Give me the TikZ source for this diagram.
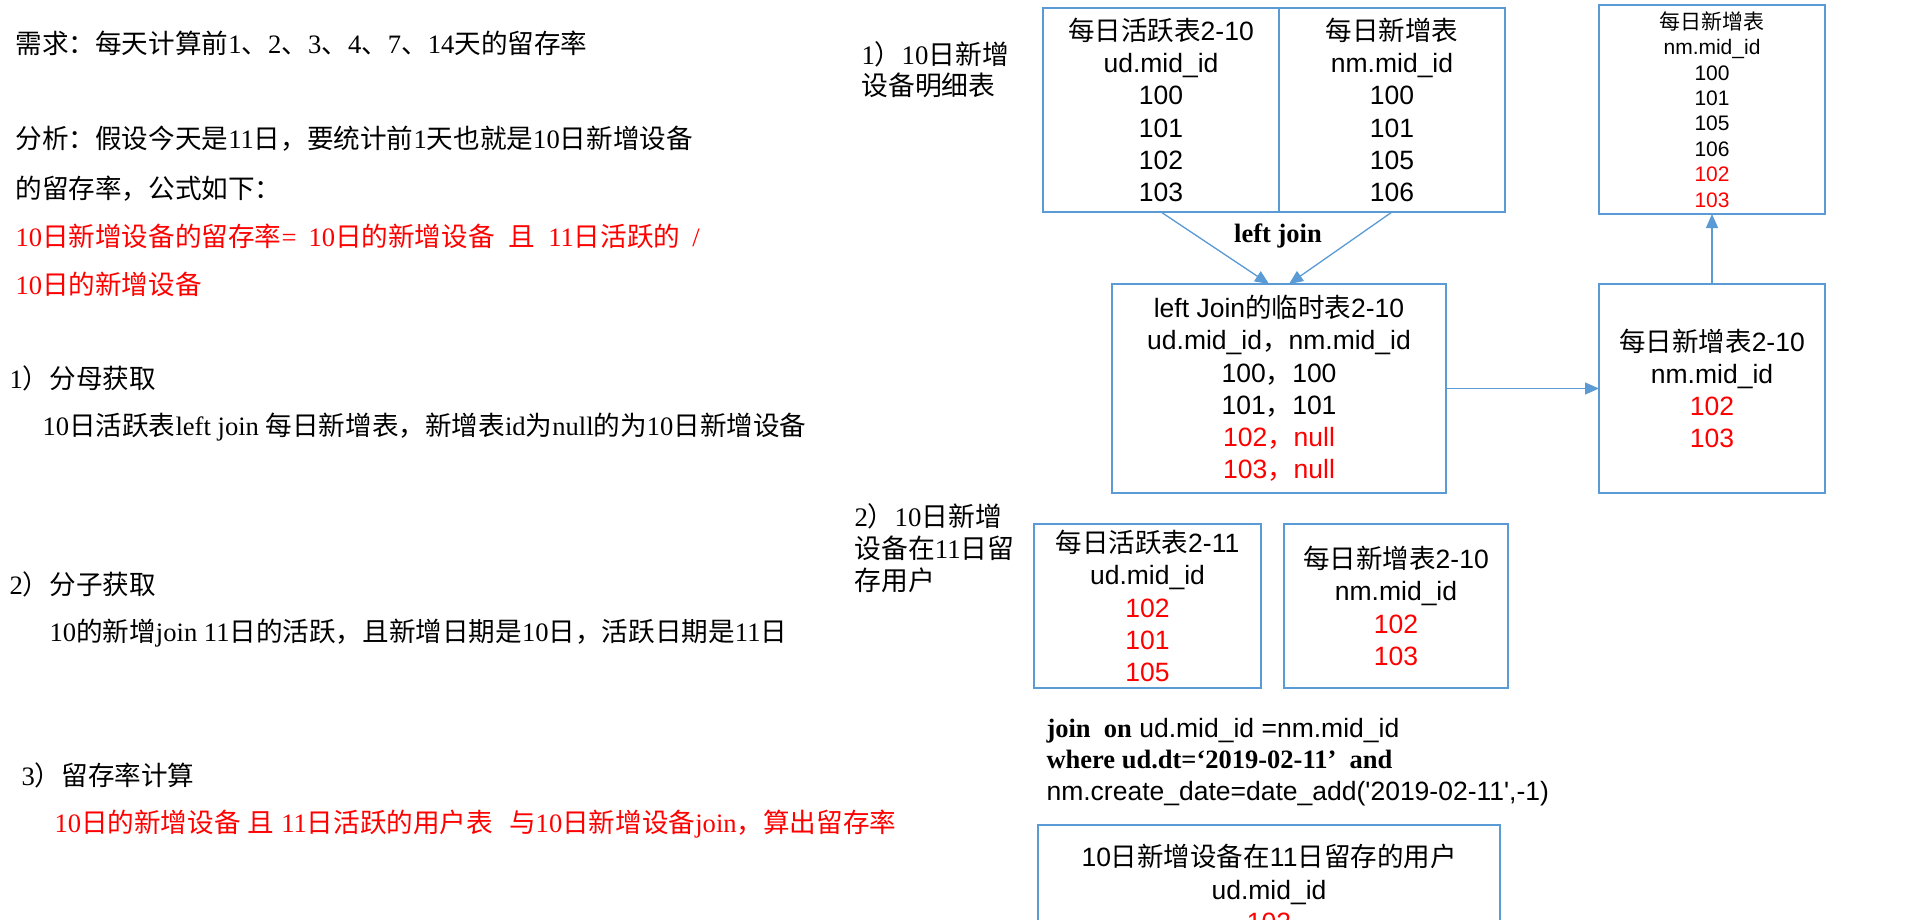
\documentclass[tikz,border=0pt]{standalone}
\usepackage{fontspec}
\setmainfont{Liberation Serif}
\setsansfont{Liberation Sans}
\newfontfamily\zhfont{Noto Sans CJK SC}
\usetikzlibrary{arrows.meta,positioning}

\definecolor{boxblue}{HTML}{5B9BD5}
\definecolor{hired}{HTML}{FF0000}

% Chinese runs switch to the CJK font by themselves
\XeTeXinterchartokenstate=1
\newcount\zhcode
\zhcode="3000
\loop\ifnum\zhcode<"A000
  \XeTeXcharclass\zhcode=1
  \advance\zhcode by 1
\repeat
\zhcode="FF00
\loop\ifnum\zhcode<"FF61
  \XeTeXcharclass\zhcode=1
  \advance\zhcode by 1
\repeat
\XeTeXinterchartoks 0 1 = {\begingroup\zhfont}
\XeTeXinterchartoks 4095 1 = {\begingroup\zhfont}
\XeTeXinterchartoks 1 0 = {\endgroup}
\XeTeXinterchartoks 1 4095 = {\endgroup}

\begin{document}
\begin{tikzpicture}[x=1pt, y=-1pt,
    tbl/.style={draw=boxblue, line width=2.8pt, outer sep=0pt, inner sep=0pt, align=center,
      font=\fontsize{26.5}{32.2}\selectfont\sffamily},
    note/.style={anchor=west, align=left, font=\fontsize{26.6}{50}\selectfont\rmfamily},
    link/.style={draw=boxblue, line width=1.3pt, -{Triangle[length=14pt,width=12pt]}}]
    \useasboundingbox (0,0) rectangle (1908,920);
    \clip (0,0) rectangle (1908,920);
    \fill[white] (0,0) rectangle (1908,920);

    % left column: the task and the three steps
    \node[note] (need) at (12,43) {需求：每天计算前1、2、3、4、7、14天的留存率};
    \node[note] (ana) at (12,164) {分析：假设今天是11日，要统计前1天也就是10日新增设备\\的留存率，公式如下：};
    \node[note, text=hired, font=\fontsize{26.6}{48}\selectfont\rmfamily] (rate) at (12,260)
        {10日新增设备的留存率=\hspace{12pt}10日的新增设备\hspace{14pt}且\hspace{13pt}11日活跃的\hspace{12pt}/\\10日的新增设备};
    \node[note] (stepa) at (6,378) {1）分母获取};
    \node[note] (stepatxt) at (39,427) {10日活跃表left join 每日新增表，新增表id为null的为10日新增设备};
    \node[note] (stepb) at (6,584) {2）分子获取};
    \node[note] (stepbtxt) at (46,633) {10的新增join 11日的活跃，且新增日期是10日，活跃日期是11日};
    \node[note] (stepc) at (18,775) {3）留存率计算};
    \node[note, text=hired] (stepctxt) at (51,824)
        {10日的新增设备\hspace{7pt}且\hspace{7pt}11日活跃的用户表\hspace{16pt}与10日新增设备join，算出留存率};

    % labels beside the tables
    \node[note, font=\fontsize{26.8}{31}\selectfont\rmfamily] (parta) at (858,69.5) {1）10日新增\\设备明细表};
    \node[note, font=\fontsize{26.8}{32}\selectfont\rmfamily] (partb) at (851,548) {2）10日新增\\设备在11日留\\存用户};

    % tables
    \node[tbl, minimum width=236pt, minimum height=204pt] (ud10) at (1161,110)
        {每日活跃表2-10\\ud.mid\_id\\100\\101\\102\\103};
    \node[tbl, minimum width=226pt, minimum height=204pt, right=0pt of ud10] (nm)
        {每日新增表\\nm.mid\_id\\100\\101\\105\\106};
    \node[tbl, minimum width=334pt, minimum height=209pt] (lj10) at (1279,388.5)
        {left Join的临时表2-10\\ud.mid\_id，nm.mid\_id\\100，100\\101，101\\\textcolor{hired}{102，null}\\\textcolor{hired}{103，null}};
    \node[tbl, minimum width=226pt, minimum height=209pt] (nm10) at (1712,388.5)
        {每日新增表2-10\\nm.mid\_id\\\textcolor{hired}{102}\\\textcolor{hired}{103}};
    \node[tbl, minimum width=226pt, minimum height=209pt, font=\fontsize{21}{25.4}\selectfont\sffamily] (nmall) at (1712,109.5)
        {每日新增表\\nm.mid\_id\\100\\101\\105\\106\\\textcolor{hired}{102}\\\textcolor{hired}{103}};
    \node[tbl, minimum width=227pt, minimum height=164pt] (ud11) at (1147.5,606)
        {每日活跃表2-11\\ud.mid\_id\\\textcolor{hired}{102}\\\textcolor{hired}{101}\\\textcolor{hired}{105}};
    \node[tbl, minimum width=224pt, minimum height=164pt] (nm10b) at (1396,606)
        {每日新增表2-10\\nm.mid\_id\\\textcolor{hired}{102}\\\textcolor{hired}{103}};
    \node[tbl, minimum width=462pt, minimum height=126pt] (keep) at (1269,888)
        {10日新增设备在11日留存的用户\\ud.mid\_id\\\textcolor{hired}{102}};

    \node[font=\fontsize{26.5}{30}\selectfont\rmfamily\bfseries] (ljlab) at (1278,236) {left join};
    \node[anchor=west, align=left, font=\fontsize{26.5}{31.7}\selectfont\sffamily] (cond) at (1043,762)
        {{\rmfamily\bfseries join\ \ on} ud.mid\_id =nm.mid\_id\\
         {\rmfamily\bfseries where ud.dt=‘2019-02-11’\ \ and}\\
         nm.create\_date=date\_add(\textquotesingle 2019-02-11\textquotesingle,-1)};

    % connectors
    \draw[link] (ud10.south) -- ([xshift=-10pt]lj10.north);
    \draw[link] (nm.south) -- ([xshift=10pt]lj10.north);
    \draw[link] (lj10.east) -- (nm10.west);
    \draw[link] (nm10.north) -- (nmall.south);
\end{tikzpicture}
\end{document}
